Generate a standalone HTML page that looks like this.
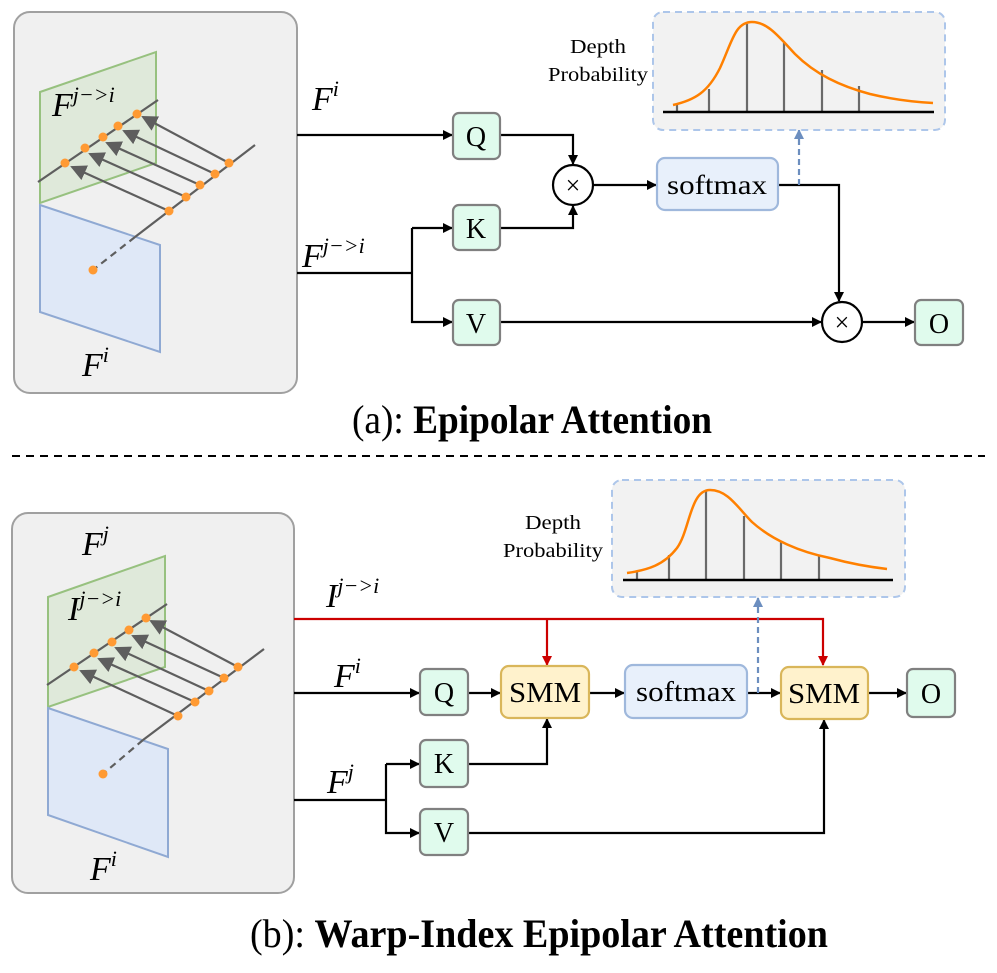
<!DOCTYPE html>
<html><head><meta charset="utf-8"><style>
html,body{margin:0;padding:0;background:#fff;}
svg text{font-family:"Liberation Serif",serif;}
.m{font-style:italic;}
</style></head><body>
<svg width="997" height="968" viewBox="0 0 997 968" xmlns="http://www.w3.org/2000/svg">
<defs>
<marker id="a" markerWidth="10" markerHeight="10" refX="9" refY="5" orient="auto" markerUnits="userSpaceOnUse"><path d="M0,0 L10,5 L0,10 z" fill="#000"/></marker>
<marker id="r" markerWidth="10" markerHeight="10" refX="9" refY="5" orient="auto" markerUnits="userSpaceOnUse"><path d="M0,0 L10,5 L0,10 z" fill="#cc0000"/></marker>
<marker id="b" markerWidth="10" markerHeight="10" refX="9" refY="5" orient="auto" markerUnits="userSpaceOnUse"><path d="M0,0 L10,5 L0,10 z" fill="#6c8ebf"/></marker>
<marker id="g" markerWidth="16" markerHeight="16" refX="14" refY="8" orient="auto" markerUnits="userSpaceOnUse"><path d="M0,0 L16,8 L0,16 z" fill="#5e5e5e"/></marker>
</defs>

<!-- ===== TOP ===== -->
<rect x="14" y="12" width="283" height="381" rx="16" fill="#f0f0f0" stroke="#a0a0a0" stroke-width="2"/>
<polygon points="40,92 156,52 156,163 40,203" fill="#dfe9da" stroke="#97c17f" stroke-width="2"/>
<polygon points="40,205 160,245 160,352 40,312" fill="#dfe8f7" stroke="#8fa9d3" stroke-width="2"/>
<line x1="38" y1="182" x2="158" y2="100" stroke="#5e5e5e" stroke-width="2.2"/>
<line x1="255" y1="145" x2="135" y2="237" stroke="#5e5e5e" stroke-width="2.2"/>
<line x1="135" y1="237" x2="93" y2="270" stroke="#5e5e5e" stroke-width="2.2" stroke-dasharray="7,5"/>
<g stroke="#5e5e5e" stroke-width="2.2">
<line x1="169" y1="211" x2="72" y2="167" marker-end="url(#g)"/>
<line x1="186" y1="197" x2="90" y2="154" marker-end="url(#g)"/>
<line x1="200" y1="185" x2="107" y2="143" marker-end="url(#g)"/>
<line x1="215" y1="174" x2="124" y2="131" marker-end="url(#g)"/>
<line x1="229" y1="163" x2="143" y2="117" marker-end="url(#g)"/>
</g>
<g fill="#ff9a33">
<circle cx="65" cy="163" r="4.5"/><circle cx="85" cy="148" r="4.5"/><circle cx="103" cy="137" r="4.5"/><circle cx="118" cy="126" r="4.5"/><circle cx="137" cy="114" r="4.5"/>
<circle cx="229" cy="163" r="4.5"/><circle cx="215" cy="174" r="4.5"/><circle cx="200" cy="185" r="4.5"/><circle cx="186" cy="197" r="4.5"/><circle cx="169" cy="211" r="4.5"/>
<circle cx="93" cy="270" r="4.5"/>
</g>
<text x="52" y="116" font-size="34" class="m">F<tspan dy="-14" font-size="22">j−&gt;i</tspan></text>
<text x="82" y="376" font-size="34" class="m">F<tspan dy="-14" font-size="22">i</tspan></text>

<text x="312" y="110" font-size="34" class="m">F<tspan dy="-14" font-size="22">i</tspan></text>
<text x="302" y="267" font-size="34" class="m">F<tspan dy="-14" font-size="22">j−&gt;i</tspan></text>

<g stroke="#000" stroke-width="2.2" fill="none">
<line x1="297" y1="135" x2="452" y2="135" marker-end="url(#a)"/>
<polyline points="500,135 573,135 573,164" marker-end="url(#a)"/>
<polyline points="500,228 573,228 573,206" marker-end="url(#a)"/>
<line x1="297" y1="273" x2="412" y2="273"/>
<polyline points="412,228 412,322 452,322" marker-end="url(#a)"/>
<line x1="412" y1="228" x2="452" y2="228" marker-end="url(#a)"/>
<line x1="500" y1="322" x2="821" y2="322" marker-end="url(#a)"/>
<line x1="593" y1="185" x2="656" y2="185" marker-end="url(#a)"/>
<polyline points="778,185 839,185 839,301" marker-end="url(#a)"/>
<line x1="862" y1="322" x2="914" y2="322" marker-end="url(#a)"/>
</g>
<line x1="799" y1="185" x2="799" y2="130" stroke="#6c8ebf" stroke-width="2.2" stroke-dasharray="6,4" marker-end="url(#b)"/>

<g stroke="#808080" stroke-width="2.2" fill="#e0fbed">
<rect x="453" y="113" width="47" height="46" rx="6"/>
<rect x="453" y="205" width="47" height="45" rx="6"/>
<rect x="453" y="300" width="47" height="45" rx="6"/>
<rect x="915" y="300" width="48" height="45" rx="6"/>
</g>
<g font-size="28" text-anchor="middle">
<text x="476" y="146">Q</text><text x="476" y="238">K</text><text x="476" y="333">V</text><text x="939" y="333">O</text>
</g>
<circle cx="573" cy="185" r="20" fill="#fff" stroke="#000" stroke-width="2.2"/>
<text x="573" y="194" font-size="26" text-anchor="middle">×</text>
<circle cx="842" cy="322" r="20" fill="#fff" stroke="#000" stroke-width="2.2"/>
<text x="842" y="331" font-size="26" text-anchor="middle">×</text>
<rect x="657" y="158" width="121" height="52" rx="8" fill="#e8f0fb" stroke="#9fb8dc" stroke-width="2.2"/>
<text x="717" y="194" font-size="27" text-anchor="middle" textLength="100" lengthAdjust="spacingAndGlyphs">softmax</text>

<rect x="653" y="12" width="292" height="118" rx="10" fill="#f2f2f2" stroke="#adc6ea" stroke-width="2" stroke-dasharray="7,5"/>
<g stroke="#6a6a6a" stroke-width="2.2">
<line x1="677" y1="112" x2="677" y2="104"/><line x1="709" y1="112" x2="709" y2="89"/><line x1="747" y1="112" x2="747" y2="24"/><line x1="784" y1="112" x2="784" y2="43"/><line x1="822" y1="112" x2="822" y2="70"/><line x1="859" y1="112" x2="859" y2="86"/>
</g>
<line x1="663" y1="112" x2="934" y2="112" stroke="#000" stroke-width="2.5"/>
<path d="M673,105 C695,100 708,92 720,68 C732,42 735,22 752,22 C768,22 780,38 795,54 C815,74 840,86 870,94 C895,100 915,102 933,103" fill="none" stroke="#ff8000" stroke-width="2.5"/>
<text x="598" y="53" font-size="20" text-anchor="middle" textLength="56" lengthAdjust="spacingAndGlyphs">Depth</text>
<text x="598" y="81" font-size="20" text-anchor="middle" textLength="100" lengthAdjust="spacingAndGlyphs">Probability</text>

<text x="352" y="433" font-size="40" textLength="360" lengthAdjust="spacingAndGlyphs">(a): <tspan font-weight="bold">Epipolar Attention</tspan></text>
<line x1="12" y1="456" x2="985" y2="456" stroke="#000" stroke-width="2" stroke-dasharray="8,6"/>

<!-- ===== BOTTOM ===== -->
<rect x="12" y="513" width="282" height="380" rx="16" fill="#f0f0f0" stroke="#a0a0a0" stroke-width="2"/>
<polygon points="48,597 165,556 165,667 48,707" fill="#dfe9da" stroke="#97c17f" stroke-width="2"/>
<polygon points="48,708 168,749 168,857 48,815" fill="#dfe8f7" stroke="#8fa9d3" stroke-width="2"/>
<line x1="47" y1="685" x2="167" y2="604" stroke="#5e5e5e" stroke-width="2.2"/>
<line x1="264" y1="649" x2="143" y2="740" stroke="#5e5e5e" stroke-width="2.2"/>
<line x1="143" y1="740" x2="103" y2="774" stroke="#5e5e5e" stroke-width="2.2" stroke-dasharray="7,5"/>
<g stroke="#5e5e5e" stroke-width="2.2">
<line x1="178" y1="716" x2="81" y2="671" marker-end="url(#g)"/>
<line x1="195" y1="702" x2="99" y2="659" marker-end="url(#g)"/>
<line x1="209" y1="691" x2="116" y2="648" marker-end="url(#g)"/>
<line x1="224" y1="678" x2="133" y2="636" marker-end="url(#g)"/>
<line x1="238" y1="667" x2="151" y2="621" marker-end="url(#g)"/>
</g>
<g fill="#ff9a33">
<circle cx="74" cy="667" r="4.5"/><circle cx="94" cy="653" r="4.5"/><circle cx="112" cy="642" r="4.5"/><circle cx="129" cy="630" r="4.5"/><circle cx="146" cy="618" r="4.5"/>
<circle cx="238" cy="667" r="4.5"/><circle cx="224" cy="678" r="4.5"/><circle cx="209" cy="691" r="4.5"/><circle cx="195" cy="702" r="4.5"/><circle cx="178" cy="716" r="4.5"/>
<circle cx="103" cy="774" r="4.5"/>
</g>
<text x="82" y="555" font-size="34" class="m">F<tspan dy="-14" font-size="22">j</tspan></text>
<text x="68" y="620" font-size="34" class="m">I<tspan dy="-14" font-size="22">j−&gt;i</tspan></text>
<text x="90" y="880" font-size="34" class="m">F<tspan dy="-14" font-size="22">i</tspan></text>

<text x="326" y="607" font-size="34" class="m">I<tspan dy="-14" font-size="22">j−&gt;i</tspan></text>
<text x="334" y="687" font-size="34" class="m">F<tspan dy="-14" font-size="22">i</tspan></text>
<text x="327" y="793" font-size="34" class="m">F<tspan dy="-14" font-size="22">j</tspan></text>

<g stroke="#cc0000" stroke-width="2.2" fill="none">
<polyline points="294,619 823,619 823,665" marker-end="url(#r)"/>
<line x1="547" y1="619" x2="547" y2="665" marker-end="url(#r)"/>
</g>
<g stroke="#000" stroke-width="2.2" fill="none">
<line x1="294" y1="693" x2="419" y2="693" marker-end="url(#a)"/>
<line x1="468" y1="693" x2="500" y2="693" marker-end="url(#a)"/>
<line x1="589" y1="693" x2="624" y2="693" marker-end="url(#a)"/>
<line x1="747" y1="693" x2="780" y2="693" marker-end="url(#a)"/>
<line x1="868" y1="693" x2="906" y2="693" marker-end="url(#a)"/>
<line x1="294" y1="800" x2="386" y2="800"/>
<polyline points="386,764 386,833 419,833" marker-end="url(#a)"/>
<line x1="386" y1="764" x2="419" y2="764" marker-end="url(#a)"/>
<polyline points="468,764 547,764 547,719" marker-end="url(#a)"/>
<polyline points="468,833 824,833 824,720" marker-end="url(#a)"/>
</g>
<line x1="758" y1="693" x2="758" y2="598" stroke="#6c8ebf" stroke-width="2.2" stroke-dasharray="6,4" marker-end="url(#b)"/>

<g stroke="#808080" stroke-width="2.2" fill="#e0fbed">
<rect x="420" y="669" width="48" height="46" rx="6"/>
<rect x="420" y="740" width="48" height="47" rx="6"/>
<rect x="420" y="809" width="48" height="46" rx="6"/>
<rect x="907" y="669" width="48" height="48" rx="6"/>
</g>
<g font-size="28" text-anchor="middle">
<text x="444" y="702">Q</text><text x="444" y="773">K</text><text x="444" y="842">V</text><text x="931" y="703">O</text>
</g>
<g stroke="#d9b65a" stroke-width="2.2" fill="#fff2cc">
<rect x="501" y="666" width="88" height="52" rx="8"/>
<rect x="781" y="667" width="87" height="52" rx="8"/>
</g>
<rect x="625" y="665" width="122" height="53" rx="8" fill="#e8f0fb" stroke="#9fb8dc" stroke-width="2.2"/>
<g font-size="28" text-anchor="middle">
<text x="545" y="702" textLength="72" lengthAdjust="spacingAndGlyphs">SMM</text><text x="824" y="703" textLength="72" lengthAdjust="spacingAndGlyphs">SMM</text><text x="686" y="701" textLength="100" lengthAdjust="spacingAndGlyphs">softmax</text>
</g>

<rect x="612" y="480" width="293" height="117" rx="10" fill="#f2f2f2" stroke="#adc6ea" stroke-width="2" stroke-dasharray="7,5"/>
<g stroke="#6a6a6a" stroke-width="2.2">
<line x1="637" y1="580" x2="637" y2="572"/><line x1="669" y1="580" x2="669" y2="555"/><line x1="706" y1="580" x2="706" y2="491"/><line x1="744" y1="580" x2="744" y2="516"/><line x1="781" y1="580" x2="781" y2="542"/><line x1="819" y1="580" x2="819" y2="556"/>
</g>
<line x1="623" y1="580" x2="893" y2="580" stroke="#000" stroke-width="2.5"/>
<path d="M627,573 C648,570 664,565 677,548 C690,530 690,490 710,490 C728,490 738,508 752,522 C772,540 800,552 830,558 C852,564 870,567 887,569" fill="none" stroke="#ff8000" stroke-width="2.5"/>
<text x="553" y="529" font-size="20" text-anchor="middle" textLength="56" lengthAdjust="spacingAndGlyphs">Depth</text>
<text x="553" y="557" font-size="20" text-anchor="middle" textLength="100" lengthAdjust="spacingAndGlyphs">Probability</text>

<text x="250" y="947" font-size="40" textLength="578" lengthAdjust="spacingAndGlyphs">(b): <tspan font-weight="bold">Warp-Index Epipolar Attention</tspan></text>
</svg>
</body></html>
